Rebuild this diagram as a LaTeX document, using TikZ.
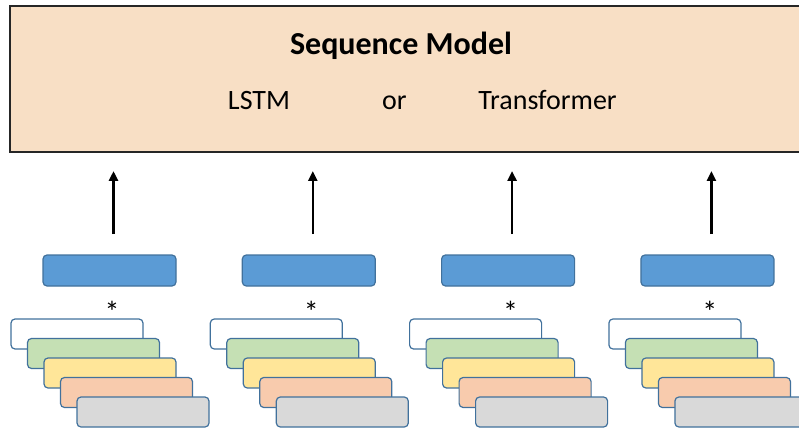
\documentclass[tikz,border=0pt]{standalone}
\usepackage{fontspec}
\setmainfont{Carlito}
\usetikzlibrary{arrows.meta}
\definecolor{modelfill}{HTML}{F8DFC5}
\definecolor{cardline}{HTML}{41719C}
\definecolor{embfill}{HTML}{5B9BD5}
\definecolor{cgreen}{HTML}{C5E0B4}
\definecolor{cyellow}{HTML}{FFE699}
\definecolor{cpeach}{HTML}{F8CBAD}
\definecolor{cgray}{HTML}{D9D9D9}
\tikzset{
  modelbox/.style={draw=black!85, line width=1.5pt, fill=modelfill, inner sep=0pt,
    minimum width=805pt, minimum height=146pt},
  embbox/.style={draw=cardline, line width=1.2pt, fill=embfill, rounded corners=4pt,
    inner sep=0pt, minimum width=133pt, minimum height=31pt},
  card/.style={draw=cardline, line width=1.2pt, rounded corners=4pt,
    inner sep=0pt, minimum width=132pt, minimum height=30pt},
  uparrow/.style={line width=2.6pt, -{Triangle[length=10pt,width=9pt]}},
  lbl/.style={anchor=base, inner sep=0pt, font=\fontsize{28}{32}\selectfont},
}
\begin{document}
\begin{tikzpicture}[x=1pt,y=-1pt]
\useasboundingbox (0,0) rectangle (799,430);
% sequence model block
\node[modelbox] (model) at (412.5,79) {};
\node[lbl, font=\fontsize{32}{36}\selectfont\bfseries] (title) at (401,55) {Sequence Model};
\node[lbl] (lstm) at (259,110) {LSTM};
\node[lbl] (or) at (394.5,110) {or};
\node[lbl] (trf) at (547.5,110) {Transformer};
% four input columns
\foreach \i in {0,1,2,3} {
  \pgfmathsetmacro{\dx}{199.3*\i}
  \node[embbox] (emb\i) at (109.5+\dx,270.5) {};
  \coordinate (tail\i) at (113.5+\dx,234);
  \coordinate (head\i) at (113.5+\dx,171);
  \draw[uparrow] (tail\i) -- (head\i);
  \node[inner sep=0pt, font=\fontsize{30}{30}\selectfont] (star\i) at (112+\dx,312) {*};
  \node[card, fill=white]   (ca\i) at (77+\dx,334) {};
  \node[card, fill=cgreen]  (cb\i) at (93.5+\dx,353.5) {};
  \node[card, fill=cyellow] (cc\i) at (110+\dx,373) {};
  \node[card, fill=cpeach]  (cd\i) at (126.5+\dx,392.5) {};
  \node[card, fill=cgray]   (ce\i) at (143+\dx,412) {};
}
\end{tikzpicture}
\end{document}
